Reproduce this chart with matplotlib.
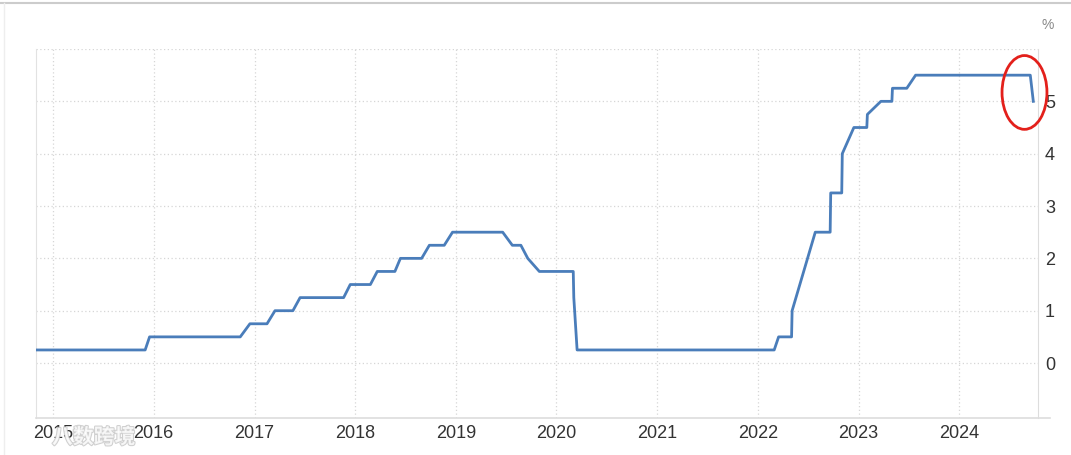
import matplotlib
matplotlib.use("Agg")
import matplotlib.pyplot as plt
import matplotlib.dates as mdates
import matplotlib.patheffects as pe
from matplotlib.patches import Ellipse
from matplotlib.lines import Line2D
import pandas as pd

plt.rcParams['font.family'] = ['Liberation Sans', 'Noto Sans CJK SC']

# fed funds rate (upper bound)
rate_dates = [
    "2014-10-31", "2015-12-01", "2015-12-17", "2016-11-10", "2016-12-15",
    "2017-02-15", "2017-03-16", "2017-05-20", "2017-06-15", "2017-11-20",
    "2017-12-14", "2018-02-25", "2018-03-22", "2018-05-25", "2018-06-14",
    "2018-08-30", "2018-09-27", "2018-11-20", "2018-12-20", "2019-06-20",
    "2019-07-25", "2019-08-25", "2019-09-19", "2019-10-31", "2020-03-02",
    "2020-03-04", "2020-03-16", "2022-03-01", "2022-03-17", "2022-05-03",
    "2022-05-05", "2022-06-16", "2022-07-28", "2022-09-20", "2022-09-22",
    "2022-11-01", "2022-11-03", "2022-12-15", "2023-01-31", "2023-02-02",
    "2023-03-23", "2023-05-02", "2023-05-04", "2023-06-25", "2023-07-27",
    "2024-09-15", "2024-09-26",
]
rate_values = [
    0.25, 0.25, 0.50, 0.50, 0.75,
    0.75, 1.00, 1.00, 1.25, 1.25,
    1.50, 1.50, 1.75, 1.75, 2.00,
    2.00, 2.25, 2.25, 2.50, 2.50,
    2.25, 2.25, 2.00, 1.75, 1.75,
    1.25, 0.25, 0.25, 0.50, 0.50,
    1.00, 1.75, 2.50, 2.50, 3.25,
    3.25, 4.00, 4.50, 4.50, 4.75,
    5.00, 5.00, 5.25, 5.25, 5.50,
    5.50, 5.00,
]
years = list(range(2015, 2025))
y_ticks = [0, 1, 2, 3, 4, 5]

dates = pd.to_datetime(rate_dates)

fig = plt.figure(figsize=(10.71, 4.55), dpi=100)
ax = fig.add_axes([36/1071, 1 - 418/455, (1038 - 36)/1071, (418 - 49)/455])

ax.plot(dates, rate_values, color='#4a7dba', lw=2.0, solid_joinstyle='round', zorder=3)

ax.set_xlim(pd.Timestamp("2014-10-31"), pd.Timestamp("2024-10-13"))
ax.set_ylim(-1.05, 6)

ax.set_xticks([pd.Timestamp(f"{y}-01-01") for y in years])
ax.set_xticklabels([str(y) for y in years])
ax.set_yticks(y_ticks + [6])
ax.set_yticklabels([str(v) for v in y_ticks] + [""])
ax.yaxis.tick_right()
ax.tick_params(axis='both', length=0, labelsize=13, colors='#333333')
ax.tick_params(axis='x', pad=5)
ax.tick_params(axis='y', pad=5)

ax.grid(True, color='#d6d6d6', linestyle=(0, (1, 2)), linewidth=0.9)
ax.spines['top'].set_visible(False)
ax.spines['bottom'].set_visible(False)
ax.spines['left'].set_color('#e2e2e2')
ax.spines['right'].set_color('#dddddd')

# bottom axis line runs past the right spine
fig.add_artist(Line2D([36/1071, 1050/1071], [1 - 418/455] * 2, color='#dddddd', lw=1.2))

fig.text(1048/1071, 1 - 25/455, "%", color='#888888', fontsize=10, ha='center', va='center')

# red highlight circle around the latest cut
ell = Ellipse((mdates.date2num(pd.Timestamp("2024-08-25")), 5.17),
              width=163, height=1.41, fill=False, edgecolor='#e3201b', lw=2.0,
              clip_on=False, zorder=4)
ax.add_patch(ell)

# outer frame
fig.add_artist(Line2D([0, 1], [1 - 3/455] * 2, color='#cccccc', lw=1.5))
fig.add_artist(Line2D([4/1071] * 2, [0, 1 - 3/455], color='#eeeeee', lw=1))

# watermark
fig.text(52/1071, 1 - 437/455, "八数跨境", family=['Noto Sans CJK SC'], fontsize=15,
         color='white', alpha=0.8, fontweight='bold', ha='left', va='center',
         path_effects=[pe.withStroke(linewidth=1.5, foreground='#c4c4c4')])

fig.savefig("out.png", dpi=100)
